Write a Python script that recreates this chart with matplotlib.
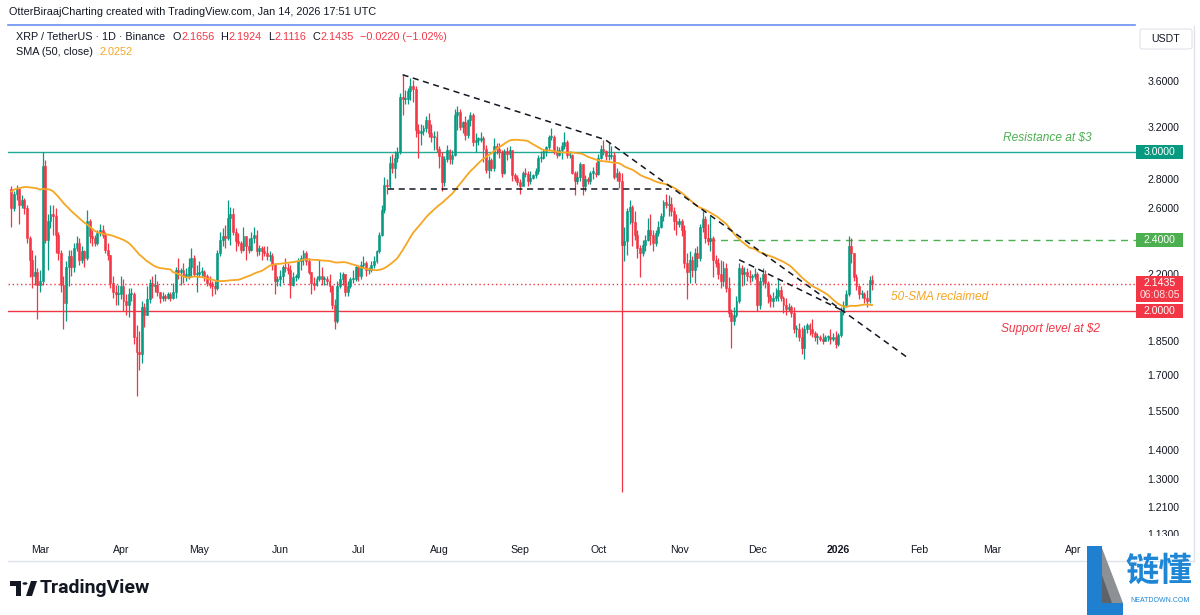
import numpy as np
import pandas as pd
import matplotlib
matplotlib.use("Agg")
import matplotlib.pyplot as plt
import matplotlib.dates as mdates
from matplotlib.patches import Rectangle, Polygon, FancyBboxPatch, Circle
from matplotlib.lines import Line2D
from matplotlib.ticker import NullLocator, NullFormatter

plt.rcParams['font.family'] = ['Liberation Sans', 'DejaVu Sans']

# ---------------- data (XRP/USDT daily) ----------------
start_date = "2025-02-18"
first_open = 2.73

closes = [
    # Feb 18-28
    2.60, 2.70, 2.73, 2.62, 2.66, 2.60, 2.41, 2.28, 2.19, 2.21, 2.14,
    # Mar
    2.16, 2.90, 2.40, 2.52, 2.56, 2.55, 2.43, 2.32, 2.14, 2.04, 2.24, 2.30, 2.24, 2.35, 2.38, 2.28,
    2.33, 2.29, 2.52, 2.42, 2.41, 2.38, 2.44, 2.46, 2.43, 2.34, 2.31, 2.15, 2.10, 2.09, 2.09,
    # Apr
    2.13, 2.05, 2.03, 2.09, 2.09, 1.87, 1.80, 1.79, 2.02, 1.98, 2.06, 2.15, 2.13, 2.14, 2.10,
    2.07, 2.08, 2.07, 2.09, 2.07, 2.10, 2.22, 2.21, 2.22, 2.19, 2.19, 2.24, 2.29, 2.20, 2.20,
    # May
    2.21, 2.21, 2.19, 2.15, 2.14, 2.13, 2.12, 2.32, 2.40, 2.42, 2.41, 2.54, 2.56, 2.45, 2.39, 2.38,
    2.34, 2.42, 2.36, 2.34, 2.41, 2.43, 2.33, 2.35, 2.33, 2.32, 2.30, 2.30, 2.25, 2.16, 2.17,
    # Jun
    2.19, 2.24, 2.23, 2.22, 2.14, 2.18, 2.18, 2.27, 2.29, 2.32, 2.27, 2.21, 2.15, 2.14, 2.17,
    2.19, 2.17, 2.17, 2.16, 2.13, 2.03, 1.95, 2.13, 2.17, 2.20, 2.10, 2.13, 2.17, 2.17, 2.24,
    # Jul
    2.19, 2.25, 2.26, 2.22, 2.22, 2.25, 2.27, 2.33, 2.43, 2.59, 2.76, 2.75, 2.92, 2.88, 2.96, 3.00,
    3.46, 3.44, 3.44, 3.51, 3.56, 3.53, 3.18, 3.15, 3.17, 3.19, 3.26, 3.15, 3.12, 3.12, 3.03,
    # Aug
    2.97, 2.78, 2.95, 3.02, 2.95, 2.98, 3.30, 3.33, 3.20, 3.24, 3.14, 3.26, 3.30, 3.08, 3.10, 3.10,
    3.11, 3.03, 2.87, 2.94, 2.88, 3.05, 3.03, 3.00, 2.85, 3.01, 2.99, 3.02, 2.83, 2.81, 2.78,
    # Sep
    2.75, 2.85, 2.84, 2.79, 2.81, 2.83, 2.86, 2.96, 2.96, 3.01, 3.04, 3.12, 3.12, 3.01, 2.98,
    3.02, 3.05, 3.08, 2.98, 2.98, 2.85, 2.79, 2.82, 2.91, 2.75, 2.80, 2.79, 2.85, 2.85, 2.84,
    # Oct
    2.96, 3.03, 3.01, 2.97, 2.97, 2.98, 2.82, 2.85, 2.79, 2.37, 2.39, 2.58, 2.61, 2.51, 2.43, 2.35,
    2.32, 2.37, 2.40, 2.46, 2.43, 2.38, 2.44, 2.48, 2.55, 2.64, 2.62, 2.63, 2.58, 2.52, 2.50,
    # Nov
    2.52, 2.46, 2.26, 2.21, 2.28, 2.22, 2.32, 2.29, 2.48, 2.53, 2.41, 2.39, 2.41, 2.28, 2.26,
    2.20, 2.16, 2.23, 2.12, 1.99, 1.95, 1.98, 2.05, 2.23, 2.20, 2.21, 2.19, 2.18, 2.19, 2.20,
    # Dec
    2.03, 2.16, 2.20, 2.15, 2.08, 2.05, 2.07, 2.08, 2.11, 2.07, 2.03, 2.01, 2.02, 1.99, 1.91, 1.91,
    1.87, 1.82, 1.91, 1.93, 1.91, 1.89, 1.87, 1.87, 1.86, 1.85, 1.87, 1.87, 1.86, 1.87, 1.84,
    # Jan 2026
    1.88, 2.00, 2.03, 2.09, 2.36, 2.32, 2.18, 2.13, 2.09, 2.09, 2.07, 2.05, 2.1656, 2.1435,
]

highs = [
    2.75, 2.72, 2.76, 2.74, 2.69, 2.67, 2.62, 2.42, 2.34, 2.31, 2.23,
    2.22, 3.00, 2.94, 2.56, 2.62, 2.62, 2.60, 2.45, 2.34, 2.19, 2.27, 2.34, 2.34, 2.38, 2.42, 2.41,
    2.36, 2.34, 2.59, 2.53, 2.46, 2.43, 2.46, 2.50, 2.49, 2.45, 2.38, 2.31, 2.19, 2.14, 2.14,
    2.19, 2.17, 2.09, 2.12, 2.12, 2.10, 1.93, 1.90, 2.05, 2.04, 2.13, 2.17, 2.19, 2.20, 2.16,
    2.10, 2.10, 2.09, 2.10, 2.10, 2.15, 2.24, 2.29, 2.23, 2.26, 2.23, 2.29, 2.35, 2.31, 2.25,
    2.27, 2.24, 2.22, 2.20, 2.19, 2.16, 2.16, 2.34, 2.45, 2.47, 2.49, 2.66, 2.61, 2.60, 2.47, 2.44,
    2.39, 2.48, 2.42, 2.41, 2.45, 2.48, 2.46, 2.37, 2.36, 2.36, 2.36, 2.33, 2.32, 2.26, 2.19,
    2.22, 2.25, 2.29, 2.26, 2.25, 2.21, 2.20, 2.29, 2.31, 2.34, 2.33, 2.29, 2.21, 2.18, 2.19,
    2.28, 2.24, 2.19, 2.19, 2.20, 2.14, 2.06, 2.16, 2.21, 2.21, 2.20, 2.16, 2.18, 2.22, 2.25,
    2.25, 2.27, 2.30, 2.27, 2.24, 2.27, 2.30, 2.34, 2.45, 2.62, 2.82, 2.80, 2.97, 2.99, 3.01, 3.04,
    3.49, 3.66, 3.52, 3.54, 3.63, 3.61, 3.56, 3.23, 3.23, 3.22, 3.29, 3.32, 3.23, 3.17, 3.17,
    3.05, 3.00, 2.97, 3.06, 3.03, 3.02, 3.35, 3.38, 3.35, 3.25, 3.29, 3.27, 3.33, 3.32, 3.15, 3.12,
    3.16, 3.13, 3.06, 2.97, 2.96, 3.11, 3.07, 3.07, 3.02, 3.03, 3.04, 3.05, 3.02, 2.85, 2.83,
    2.80, 2.86, 2.88, 2.86, 2.86, 2.84, 2.88, 2.98, 3.01, 3.03, 3.05, 3.14, 3.19, 3.14, 3.05,
    3.04, 3.08, 3.16, 3.10, 3.01, 2.99, 2.86, 2.86, 2.93, 2.91, 2.83, 2.82, 2.86, 2.89, 2.93,
    2.99, 3.06, 3.10, 3.02, 3.07, 3.05, 3.00, 2.88, 2.86, 2.85, 2.48, 2.60, 2.66, 2.62, 2.58, 2.46,
    2.37, 2.40, 2.43, 2.54, 2.56, 2.46, 2.46, 2.52, 2.57, 2.66, 2.70, 2.69, 2.68, 2.61, 2.56,
    2.54, 2.53, 2.49, 2.32, 2.33, 2.30, 2.35, 2.36, 2.50, 2.58, 2.55, 2.50, 2.55, 2.42, 2.31,
    2.29, 2.28, 2.27, 2.26, 2.18, 2.01, 2.02, 2.08, 2.26, 2.25, 2.24, 2.23, 2.22, 2.20, 2.23,
    2.21, 2.18, 2.23, 2.22, 2.16, 2.09, 2.10, 2.12, 2.17, 2.13, 2.08, 2.07, 2.04, 2.03, 2.02, 1.93,
    1.94, 1.92, 1.93, 1.94, 1.94, 1.96, 1.90, 1.89, 1.88, 1.89, 1.88, 1.88, 1.91, 1.89, 1.90,
    1.89, 2.02, 2.05, 2.11, 2.42, 2.41, 2.32, 2.20, 2.14, 2.11, 2.10, 2.11, 2.19, 2.1924,
]

lows = [
    2.48, 2.58, 2.66, 2.50, 2.60, 2.56, 2.38, 2.18, 2.12, 2.14, 1.96,
    2.10, 2.14, 2.38, 2.22, 2.47, 2.43, 2.32, 2.28, 2.10, 1.91, 1.95, 2.13, 2.19, 2.21, 2.33, 2.25,
    2.26, 2.24, 2.28, 2.38, 2.36, 2.36, 2.37, 2.42, 2.41, 2.32, 2.28, 2.12, 2.07, 2.03, 2.03,
    2.06, 2.00, 1.98, 1.97, 2.05, 1.84, 1.61, 1.72, 1.75, 1.92, 1.98, 2.04, 2.07, 2.10, 2.08,
    2.04, 2.05, 2.05, 2.06, 2.05, 2.06, 2.07, 2.17, 2.14, 2.15, 2.16, 2.17, 2.18, 2.19, 2.10,
    2.18, 2.19, 2.16, 2.13, 2.12, 2.08, 2.09, 2.11, 2.30, 2.36, 2.35, 2.40, 2.37, 2.43, 2.33, 2.36,
    2.32, 2.33, 2.28, 2.32, 2.33, 2.38, 2.30, 2.31, 2.28, 2.30, 2.28, 2.27, 2.22, 2.09, 2.13,
    2.13, 2.15, 2.21, 2.20, 2.07, 2.13, 2.16, 2.17, 2.22, 2.25, 2.25, 2.20, 2.09, 2.11, 2.13,
    2.16, 2.14, 2.14, 2.14, 2.10, 2.01, 1.91, 1.94, 2.12, 2.14, 2.08, 2.08, 2.12, 2.15, 2.16,
    2.16, 2.17, 2.23, 2.19, 2.20, 2.21, 2.23, 2.26, 2.32, 2.42, 2.57, 2.70, 2.74, 2.85, 2.81, 2.93,
    2.99, 3.30, 3.40, 3.40, 3.43, 3.41, 3.12, 2.96, 3.06, 3.14, 3.16, 3.12, 3.08, 3.02, 3.00,
    2.88, 2.72, 2.75, 2.93, 2.91, 2.91, 2.97, 3.18, 3.18, 3.15, 3.10, 3.11, 3.21, 3.05, 3.00, 3.06,
    3.08, 2.93, 2.85, 2.81, 2.86, 2.86, 2.99, 2.96, 2.82, 2.84, 2.94, 2.96, 2.79, 2.79, 2.76,
    2.70, 2.75, 2.82, 2.75, 2.77, 2.80, 2.81, 2.84, 2.93, 2.95, 2.97, 3.02, 3.10, 2.99, 2.96,
    2.97, 2.95, 3.03, 2.96, 2.96, 2.84, 2.69, 2.77, 2.79, 2.69, 2.72, 2.77, 2.77, 2.80, 2.82,
    2.83, 2.95, 2.98, 2.94, 2.94, 2.95, 2.80, 2.79, 2.74, 1.26, 2.27, 2.31, 2.50, 2.36, 2.40, 2.29,
    2.18, 2.30, 2.33, 2.39, 2.37, 2.33, 2.36, 2.42, 2.47, 2.52, 2.60, 2.55, 2.55, 2.46, 2.43,
    2.48, 2.42, 2.23, 2.06, 2.15, 2.18, 2.15, 2.24, 2.27, 2.45, 2.38, 2.37, 2.33, 2.18, 2.24,
    2.17, 2.12, 2.13, 2.10, 1.97, 1.82, 1.93, 1.97, 2.04, 2.13, 2.14, 2.16, 2.15, 2.16, 2.17,
    2.00, 2.01, 2.14, 2.12, 2.04, 2.02, 2.02, 2.05, 2.05, 2.05, 1.99, 1.98, 2.00, 1.97, 1.89, 1.87,
    1.85, 1.79, 1.77, 1.89, 1.88, 1.87, 1.85, 1.84, 1.85, 1.84, 1.85, 1.85, 1.84, 1.85, 1.82,
    1.83, 1.87, 1.98, 2.02, 2.08, 2.26, 2.16, 2.11, 2.06, 2.07, 2.04, 2.02, 2.04, 2.1116,
]

# closes of the 49 days before the first visible candle (needed for the 50-day SMA)
prior_closes = [
    2.08, 2.36, 2.44, 2.43, 2.42, 2.40, 2.39, 2.31, 2.34, 2.31, 2.57, 2.57, 2.58, 2.52, 2.74, 3.09,
    3.33, 3.25, 3.25, 3.12, 3.15, 3.15, 3.15, 3.12, 3.12, 3.10, 3.04, 3.05, 3.03, 3.10, 3.13, 3.04,
    2.88, 2.63, 2.68, 2.56, 2.41, 2.30, 2.33, 2.40, 2.39, 2.42, 2.38, 2.52, 2.57, 2.80, 2.76, 2.69, 2.73,
]
sma_period = 50

ytick_values = [3.6, 3.2, 2.8, 2.6, 2.2, 1.85, 1.70, 1.55, 1.40, 1.30, 1.21, 1.13]
month_ticks = ["2025-03-01", "2025-04-01", "2025-05-01", "2025-06-01", "2025-07-01", "2025-08-01",
               "2025-09-01", "2025-10-01", "2025-11-01", "2025-12-01", "2026-01-01", "2026-02-01",
               "2026-03-01", "2026-04-01"]
month_labels = ["Mar", "Apr", "May", "Jun", "Jul", "Aug", "Sep", "Oct", "Nov", "Dec", "2026",
                "Feb", "Mar", "Apr"]

resistance = 3.0
support = 2.0
breakout_level = 2.4
breakout_start = "2025-11-12 00:00"
current_price = 2.1435
countdown = "06:08:05"

trend_upper_dates = ["2025-07-18 00:00", "2025-10-03 16:00", "2026-01-27 00:00"]
trend_upper_prices = [3.66, 3.10, 1.78]
trend_inner_dates = ["2025-11-24 00:00", "2026-01-03 00:00"]
trend_inner_prices = [2.28, 2.00]
range_floor_dates = ["2025-07-12 12:00", "2025-10-28 00:00"]
range_floor_price = 2.73

legend_title = "XRP / TetherUS \u00b7 1D \u00b7 Binance"
legend_ohlc = [("O", "2.1656"), ("H", "2.1924"), ("L", "2.1116"), ("C", "2.1435")]
legend_change = "\u22120.0220 (\u22121.02%)"
sma_label = "SMA (50, close)"
sma_value = "2.0252"

# ---------------- figure ----------------
W, H = 1200, 615
GREEN = "#089981"
RED = "#f23645"
TEXT = "#131722"
ORANGE = "#f5a623"


def dnum(seq):
    return mdates.date2num(pd.to_datetime(list(seq), format="mixed"))


fig = plt.figure(figsize=(W / 100, H / 100), dpi=100)
fig.patch.set_facecolor("white")
renderer = fig.canvas.get_renderer()


def fx(x):
    return x / W


def fy(y):
    return 1 - y / H


PL, PR, PT, PB = 8, 1136, 26, 538
ax = fig.add_axes([fx(PL), fy(PB), (PR - PL) / W, (PB - PT) / H])
ax.set_yscale("log")

n = min(len(closes), len(highs), len(lows))
c = np.array(closes[:n], dtype=float)
hi = np.array(highs[:n], dtype=float)
lo = np.array(lows[:n], dtype=float)
o = np.concatenate([[first_open], c[:-1]])
hi = np.maximum(hi, np.maximum(o, c))
lo = np.minimum(lo, np.minimum(o, c))
dates = pd.date_range(start_date, periods=n, freq="D")
xd = mdates.date2num(dates)
cols = np.where(c >= o, GREEN, RED)

ax.vlines(xd, lo, hi, colors=cols, linewidth=0.9, zorder=3)
bottom = np.minimum(o, c)
height = np.maximum(np.abs(c - o), bottom * 0.003)
ax.bar(xd, height, bottom=bottom, width=0.72, color=cols, edgecolor=cols,
       linewidth=0.4, zorder=4)

all_c = np.concatenate([np.array(prior_closes, dtype=float), c])
sma = pd.Series(all_c).rolling(sma_period).mean().to_numpy()[len(prior_closes):]
ax.plot(xd, sma, color=ORANGE, lw=1.3, zorder=5)

mar1 = dnum(["2025-03-01"])[0]
x0, x1 = mar1 - 12.27, mar1 + 420.15
ax.set_xlim(x0, x1)
ax.set_ylim(1.119, 4.146)

# horizontal levels
ax.axhline(resistance, color="#22ab94", lw=1.0, zorder=2)
ax.axhline(support, color=RED, lw=1.0, zorder=2)
ax.axhline(current_price, color=RED, lw=1.0, ls=(0, (1, 2)), zorder=2)
ax.plot([dnum([breakout_start])[0], x1], [breakout_level, breakout_level],
        color="#4caf50", lw=1.0, ls=(0, (5, 4)), zorder=2)

# trend lines
dash = (0, (4, 3))
ax.plot(dnum(trend_upper_dates), trend_upper_prices, color=TEXT, lw=1.1, ls=dash, zorder=6)
ax.plot(dnum(trend_inner_dates), trend_inner_prices, color=TEXT, lw=1.1, ls=dash, zorder=6)
ax.plot(dnum(range_floor_dates), [range_floor_price] * 2, color=TEXT, lw=1.1, ls=dash, zorder=6)

# axes styling
for s in ax.spines.values():
    s.set_visible(False)
ax.yaxis.tick_right()
ax.set_yticks(ytick_values)
ax.set_yticklabels([f"{v:.4f}" for v in ytick_values])
ax.yaxis.set_minor_locator(NullLocator())
ax.yaxis.set_minor_formatter(NullFormatter())
ax.tick_params(axis="y", length=0, pad=8, labelsize=7.6, labelcolor=TEXT)
ax.set_xticks(dnum(month_ticks))
ax.set_xticklabels(month_labels)
ax.tick_params(axis="x", length=0, pad=5, labelsize=7.6, labelcolor=TEXT)
for lbl in ax.get_xticklabels():
    if lbl.get_text() == "2026":
        lbl.set_fontweight("bold")


def fig_y(p):
    disp = ax.transData.transform((x0, p))
    return fig.transFigure.inverted().transform(disp)[1]


def price_box(p, label, color, dy_px=0.0, h_px=14):
    yc = fig_y(p) - dy_px / H
    fig.add_artist(Rectangle((fx(1136), yc - h_px / 2 / H), 47 / W, h_px / H,
                             transform=fig.transFigure, facecolor=color,
                             edgecolor="none", zorder=5))
    if isinstance(label, str):
        fig.text(fx(1159.5), yc, label, color="white", ha="center", va="center",
                 fontsize=7.6, zorder=6)
    return yc


# cover for the price scale below the plot (label there is cut, as in the reference)
fig.add_artist(Rectangle((fx(1136), fy(561)), 58 / W, 25 / H, transform=fig.transFigure,
                         facecolor="white", edgecolor="none", zorder=1))

price_box(resistance, f"{resistance:.4f}", GREEN)
price_box(breakout_level, f"{breakout_level:.4f}", "#4caf50")
yc = price_box(current_price, None, RED, dy_px=5, h_px=26)
fig.text(fx(1159.5), yc + 6 / H, f"{current_price:.4f}", color="white", ha="center",
         va="center", fontsize=7.6, zorder=6)
fig.text(fx(1159.5), yc - 6.5 / H, countdown, color="#ffdfe2", ha="center",
         va="center", fontsize=7.6, zorder=6)
price_box(support, f"{support:.4f}", RED)

# frame lines
fig.add_artist(Line2D([fx(8), fx(1135)], [fy(25), fy(25)], color="#6b8ff0", lw=1.2,
                      transform=fig.transFigure, zorder=2))
fig.add_artist(Line2D([fx(8), fx(1194)], [fy(561), fy(561)], color="#e0e3eb", lw=1.0,
                      transform=fig.transFigure, zorder=2))
fig.add_artist(Line2D([fx(1194), fx(1194)], [fy(26), fy(561)], color="#e0e3eb", lw=1.0,
                      transform=fig.transFigure, zorder=2))

# USDT box
fig.add_artist(FancyBboxPatch((fx(1140), fy(49)), 52 / W, 20 / H,
                              boxstyle="round,pad=0,rounding_size=0.003",
                              transform=fig.transFigure, facecolor="white",
                              edgecolor="#e0e3eb", lw=0.8, zorder=2))
fig.text(fx(1166), fy(39), "USDT", color=TEXT, ha="center", va="center", fontsize=7.6, zorder=3)

# header
fig.text(fx(9), fy(12), "OtterBiraajCharting created with TradingView.com, Jan 14, 2026 17:51 UTC",
         color=TEXT, fontsize=7.8, ha="left", va="center")


def seq_text(x_px, y_px, pieces, size=7.8):
    """Place text pieces one after another on a line; pieces = (text, color, gap_after_px)."""
    x = x_px
    for s, col, gap in pieces:
        t = fig.text(fx(x), fy(y_px), s, color=col, fontsize=size, ha="left", va="center")
        bb = t.get_window_extent(renderer)
        x = bb.x1 + gap


pieces = [(legend_title, TEXT, 7)]
for k, v in legend_ohlc:
    pieces.append((k, TEXT, 0.5))
    pieces.append((v, RED, 6))
pieces.append((legend_change, RED, 0))
seq_text(16, 37, pieces)
seq_text(16, 52, [(sma_label, TEXT, 7), (sma_value, ORANGE, 0)])

# annotations
fig.text(fx(1003), fy(138), "Resistance at $3", color="#4caf50", fontsize=8.6,
         style="italic", ha="left", va="center")
fig.text(fx(891), fy(297), "50-SMA reclaimed", color=ORANGE, fontsize=8.6,
         style="italic", ha="left", va="center")
fig.text(fx(1001), fy(329), "Support level at $2", color=RED, fontsize=8.6,
         style="italic", ha="left", va="center")

# TradingView logo (bottom left)
fig.add_artist(Polygon([(fx(10), fy(581)), (fx(21), fy(581)), (fx(21), fy(596)),
                        (fx(16), fy(596)), (fx(16), fy(586)), (fx(10), fy(586))],
                       closed=True, transform=fig.transFigure, facecolor=TEXT,
                       edgecolor="none", zorder=3))
fig.add_artist(Circle((fx(25), fy(583.5)), 2.5 / W, transform=fig.transFigure,
                      facecolor=TEXT, edgecolor="none", zorder=3))
fig.add_artist(Polygon([(fx(26), fy(596)), (fx(31), fy(581)), (fx(37), fy(581)),
                        (fx(32), fy(596))], closed=True, transform=fig.transFigure,
                       facecolor=TEXT, edgecolor="none", zorder=3))
fig.text(fx(40), fy(588), "TradingView", color=TEXT, fontsize=14, fontweight="bold",
         ha="left", va="center", family=["Roboto", "DejaVu Sans"])

# watermark (bottom right)
fig.add_artist(Rectangle((fx(1087), fy(615)), 15 / W, 69 / H, transform=fig.transFigure,
                         facecolor="#1f7fd0", edgecolor="none", zorder=3))
fig.add_artist(Polygon([(fx(1102), fy(548)), (fx(1102), fy(603)), (fx(1123), fy(603))],
                       closed=True, transform=fig.transFigure, facecolor="#8d9196",
                       edgecolor="none", zorder=3))
fig.add_artist(Polygon([(fx(1102), fy(575)), (fx(1102), fy(603)), (fx(1112), fy(603))],
                       closed=True, transform=fig.transFigure, facecolor="#5f6368",
                       edgecolor="none", zorder=3))
fig.add_artist(Rectangle((fx(1102), fy(615)), 21 / W, 12 / H, transform=fig.transFigure,
                         facecolor="#1f7fd0", edgecolor="none", zorder=3))
fig.text(fx(1159), fy(571), "链懂", color="#1f86d6", fontsize=24, fontweight="bold",
         ha="center", va="center", family=["Noto Sans CJK SC", "DejaVu Sans"])
fig.text(fx(1160), fy(600), "NEATDOWN.COM", color="#1f86d6", fontsize=5,
         ha="center", va="center")

fig.savefig("out.png", dpi=100, facecolor="white")
